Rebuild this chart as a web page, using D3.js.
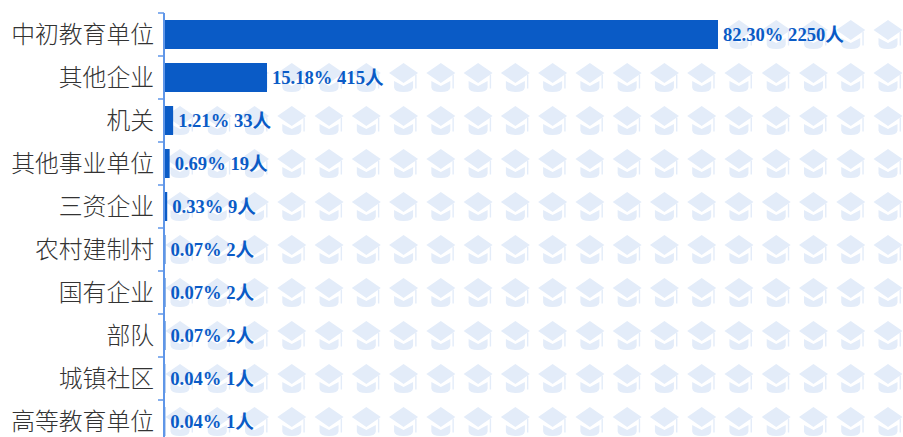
<!DOCTYPE html>
<html>
<head>
<meta charset="utf-8">
<script src="https://cdn.jsdelivr.net/npm/d3@7"></script>
<style>
    html, body { margin: 0; padding: 0; background: #ffffff; overflow: hidden; }
</style>
</head>
<body>
<div id="chart"></div>
<script>
var categories = ["中初教育单位", "其他企业", "机关", "其他事业单位", "三资企业", "农村建制村", "国有企业", "部队", "城镇社区", "高等教育单位"];
var percents = [82.30, 15.18, 1.21, 0.69, 0.33, 0.07, 0.07, 0.07, 0.04, 0.04];
var counts = [2250, 415, 33, 19, 9, 2, 2, 2, 1, 1];
var iconColumns = d3.range(20);

var barColor = "#0a5bc6", axisColor = "#5f96e8", iconColor = "#e3ecf9", labelColor = "#333333";

var svg = d3.select("#chart")
    .append("svg")
    .attr("width", 903)
    .attr("height", 437);

var x = d3.scaleLinear().domain([0, 82.30]).range([165, 718]);
var y = d3.scaleBand().domain(categories).range([13, 443]).paddingInner(0).paddingOuter(0);
var iconX = d3.scalePoint().domain(iconColumns).range([180, 888]);

var barHeight = 29;

// mortarboard icon, drawn around its own centre
function drawIcon(g) {
    g.append("path")
        .attr("d", "M-9.5,3.5 L-9.5,10 Q-9,14.5 0,14.5 Q9,14.5 9.5,10 L9.5,3.5 L0,8.5 Z")
        .attr("fill", iconColor);
    g.append("path")
        .attr("d", "M0,-14.5 L14.5,-4.5 L0,5.5 L-14.5,-4.5 Z")
        .attr("fill", iconColor);
    g.append("rect")
        .attr("x", 11.6)
        .attr("y", -3)
        .attr("width", 1.4)
        .attr("height", 14)
        .attr("fill", iconColor);
}

categories.forEach(function (c) {
    iconColumns.forEach(function (col) {
        var g = svg.append("g")
            .attr("transform", "translate(" + iconX(col) + "," + (y(c) + y.bandwidth() / 2) + ")");
        drawIcon(g);
    });
});

svg.selectAll("rect.bar")
    .data(categories)
    .enter()
    .append("rect")
    .attr("class", "bar")
    .attr("x", x(0))
    .attr("y", function (d) { return y(d) + (y.bandwidth() - barHeight) / 2; })
    .attr("width", function (d, i) { return x(percents[i]) - x(0); })
    .attr("height", barHeight)
    .attr("fill", barColor);

var axis = svg.append("g")
    .attr("transform", "translate(164,1)")
    .call(d3.axisLeft(y).tickSize(0).tickPadding(10));
axis.select(".domain").attr("stroke", "none");
axis.selectAll("text")
    .attr("font-family", "'Noto Sans CJK SC', sans-serif")
    .attr("font-size", "23.8px")
    .attr("font-weight", 300)
    .attr("fill", labelColor);

svg.append("line")
    .attr("x1", 164)
    .attr("x2", 164)
    .attr("y1", y.range()[0])
    .attr("y2", y.range()[1])
    .attr("stroke", axisColor)
    .attr("stroke-width", 2);

svg.selectAll("line.tickmark")
    .data(categories)
    .enter()
    .append("line")
    .attr("class", "tickmark")
    .attr("x1", 158)
    .attr("x2", 164)
    .attr("y1", function (d) { return y(d); })
    .attr("y2", function (d) { return y(d); })
    .attr("stroke", axisColor)
    .attr("stroke-width", 1.5);

svg.selectAll("text.value")
    .data(categories)
    .enter()
    .append("text")
    .attr("class", "value")
    .attr("x", function (d, i) { return x(percents[i]) + 5; })
    .attr("y", function (d) { return y(d) + y.bandwidth() / 2; })
    .attr("dy", "0.35em")
    .attr("font-family", "'Liberation Serif', 'Noto Sans CJK SC', serif")
    .attr("font-weight", "bold")
    .attr("font-size", "18.6px")
    .attr("fill", barColor)
    .text(function (d, i) { return percents[i].toFixed(2) + "% " + counts[i] + "人"; });
</script>
</body>
</html>
